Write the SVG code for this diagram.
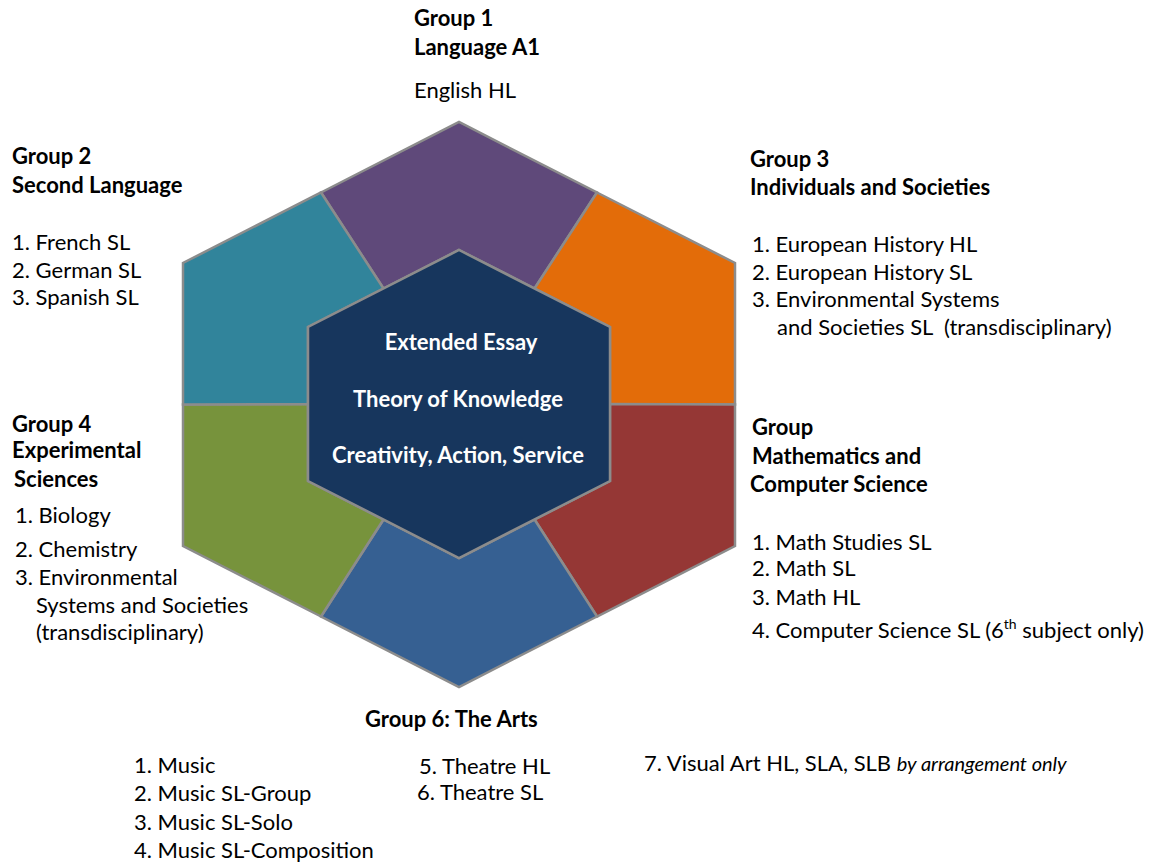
<svg xmlns="http://www.w3.org/2000/svg" width="1155" height="865" viewBox="0 0 1155 865">
<style>
  text { font-family: Lato, "Liberation Sans", sans-serif; font-size: 22px; fill: #000; }
  .b { font-weight: bold; }
  .c { font-weight: bold; fill: #fff; text-anchor: middle; }
  .seg { stroke: #8c8c8c; stroke-width: 2.5; stroke-linejoin: miter; }
  .it { font-style: italic; font-size: 20px; }
  .sup { font-size: 14px; }
</style>
<rect width="1155" height="865" fill="#fff"/>
<g id="group1">
  <polygon class="seg" fill="#5f497a" points="321,192.5 459,122 597,192.5 534.5,288.5 459,250 383.5,288.5"/>
  <text class="b" x="414" y="26">Group 1</text>
  <text class="b" x="414" y="55">Language A1</text>
  <text x="414" y="98">English HL</text>
</g>
<g id="group3">
  <polygon class="seg" fill="#e36c09" points="597,192.5 735,263 735,404.5 610,404 610,327 534.5,288.5"/>
  <text class="b" x="750" y="167">Group 3</text>
  <text class="b" x="750" y="195">Individuals and Societies</text>
  <text x="752" y="252">1. European History HL</text>
  <text x="752" y="280">2. European History SL</text>
  <text x="752" y="307">3. Environmental Systems</text>
  <text x="777" y="335">and Societies SL&#160; (transdisciplinary)</text>
</g>
<g id="group5">
  <polygon class="seg" fill="#953735" points="735,404.5 735,546 597,616.5 534.5,519.5 610,481 610,404"/>
  <text class="b" x="752" y="435">Group</text>
  <text class="b" x="752" y="464">Mathematics and</text>
  <text class="b" x="750" y="492">Computer Science</text>
  <text x="752" y="550">1. Math Studies SL</text>
  <text x="752" y="576">2. Math SL</text>
  <text x="752" y="605">3. Math HL</text>
  <text x="752" y="638">4. Computer Science SL (6<tspan class="sup" dy="-9">th</tspan><tspan dy="9"> subject only)</tspan></text>
</g>
<g id="group6">
  <polygon class="seg" fill="#366092" points="597,616.5 459,687 321,616.5 383.5,519.5 459,558 534.5,519.5"/>
  <text class="b" x="365" y="727">Group 6: The Arts</text>
  <text x="134" y="773">1. Music</text>
  <text x="134" y="801">2. Music SL-Group</text>
  <text x="134" y="830">3. Music SL-Solo</text>
  <text x="134" y="858">4. Music SL-Composition</text>
  <text x="419" y="774">5. Theatre HL</text>
  <text x="417" y="800">6. Theatre SL</text>
  <text x="644" y="771">7. Visual Art HL, SLA, SLB <tspan class="it">by arrangement only</tspan></text>
</g>
<g id="group4">
  <polygon class="seg" fill="#77933c" points="321,616.5 183,546 183,404.5 308,404 308,481 383.5,519.5"/>
  <text class="b" x="12" y="432">Group 4</text>
  <text class="b" x="12" y="458">Experimental</text>
  <text class="b" x="14" y="487">Sciences</text>
  <text x="15" y="523">1. Biology</text>
  <text x="15" y="557">2. Chemistry</text>
  <text x="15" y="585">3. Environmental</text>
  <text x="36" y="613">Systems and Societies</text>
  <text x="36" y="640">(transdisciplinary)</text>
</g>
<g id="group2">
  <polygon class="seg" fill="#31849b" points="183,404.5 183,263 321,192.5 383.5,288.5 308,327 308,404"/>
  <text class="b" x="12" y="164">Group 2</text>
  <text class="b" x="12" y="193">Second Language</text>
  <text x="12" y="250">1. French SL</text>
  <text x="12" y="278">2. German SL</text>
  <text x="12" y="305">3. Spanish SL</text>
</g>
<g id="core">
  <polygon class="seg" fill="#17365d" points="459,250 610,327 610,481 459,558 308,481 308,327"/>
  <text class="c" x="461" y="350">Extended Essay</text>
  <text class="c" x="458" y="407">Theory of Knowledge</text>
  <text class="c" x="458" y="463">Creativity, Action, Service</text>
</g>
<g id="connectors"/>
</svg>
